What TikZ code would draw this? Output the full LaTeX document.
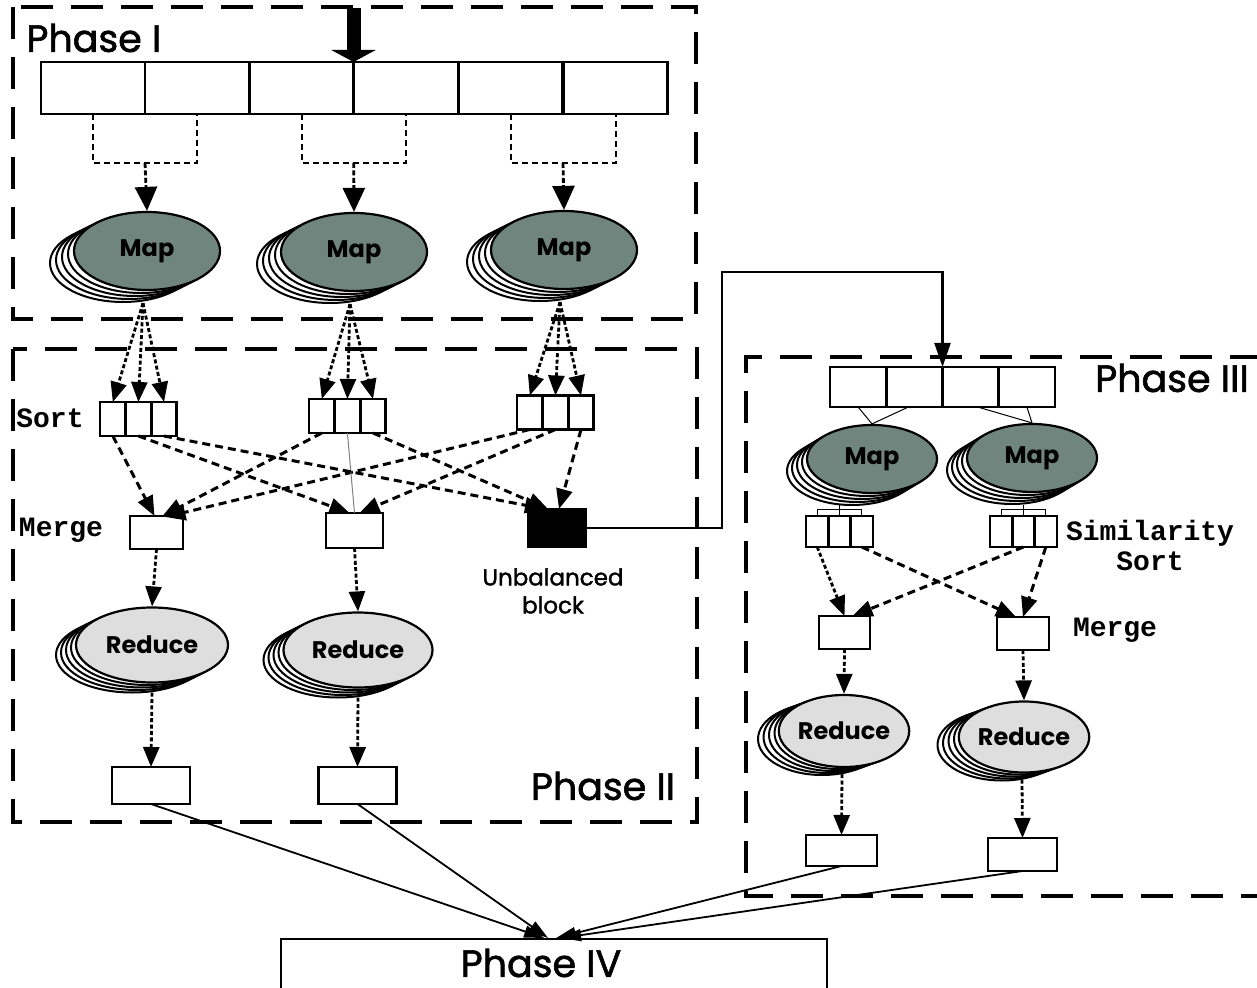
\documentclass[tikz,border=0pt]{standalone}
\usepackage{fontspec}
\setmainfont{Poppins}
\newfontfamily\phasefont{Poppins}[FakeBold=1.6]
\newfontfamily\codefont{Liberation Mono}
\usetikzlibrary{arrows.meta,calc,shapes.geometric}
\definecolor{mapfill}{RGB}{111,133,126}
\definecolor{redfill}{RGB}{222,222,222}

% stacked ellipses: name, x, y, width, height, dx, dy, fill, label
\newcommand\ellstack[9]{%
  \foreach \k in {4,3,2,1}
    \node[ellipse, draw, fill=white, line width=1pt, inner sep=0pt,
          minimum width=#4, minimum height=#5] (#1-\k) at ({#2+\k*(#6)},{#3+\k*(#7)}) {};
  \node[ellipse, draw, line width=1.1pt, inner sep=0pt, fill=#8,
        minimum width=#4, minimum height=#5,
        font=\bfseries\fontsize{12}{12}\selectfont] (#1) at (#2,#3) {#9};
}

\begin{document}
\begin{tikzpicture}[x=0.5pt,y=-0.5pt,
  frame/.style={line width=1.6pt, dash pattern=on 16pt off 9pt},
  box/.style={draw, line width=1.4pt, inner sep=0pt, outer sep=0pt, fill=white},
  phaselabel/.style={font=\phasefont\fontsize{19}{22}\selectfont, inner sep=0pt},
  codelabel/.style={font=\codefont\bfseries\fontsize{14}{15}\selectfont, inner sep=0pt},
  dotarr/.style={line width=1.4pt, dash pattern=on 2pt off 1.2pt, -{Triangle[width=8pt,length=10pt]}},
  bigdotarr/.style={line width=1.4pt, dash pattern=on 2.5pt off 1.2pt, -{Triangle[width=11pt,length=12pt]}},
  dsharr/.style={line width=1.5pt, dash pattern=on 4pt off 2.5pt, -{Triangle[width=8pt,length=10pt]}},
  bracket/.style={line width=1pt, dash pattern=on 3pt off 2pt},
  solidarr/.style={line width=0.9pt, -{Triangle[width=6pt,length=10pt]}},
  thinl/.style={line width=0.5pt},
]
\useasboundingbox (0,0) rectangle (1257,988);

%% ---------------- Phase I ----------------
\draw[frame] (13,7) rectangle (696,319);
\node[phaselabel, anchor=west] (ph1) at (26,38) {Phase I};

\foreach \i/\x in {1/93,2/197,3/301.5,4/406,5/510.5,6/615.5}
  \node[box, minimum width=52pt, minimum height=26pt] (c\i) at (\x,88) {};

% input feed
\coordinate (feed) at (353.5,8);
\draw[line width=7pt, -{Triangle[width=22pt,length=6pt]}] (feed) -- (c3.north east);

% splits
\draw[bracket] (c1.south) -- ++(0,49) -| (c2.south);
\draw[bracket] (c3.south) -- ++(0,49) -| (c4.south);
\draw[bracket] (c5.south) -- ++(0,49) -| (c6.south);
\coordinate (b1) at ($(c1.south)!0.5!(c2.south)+(0,49)$);
\coordinate (b2) at ($(c3.south)!0.5!(c4.south)+(0,49)$);
\coordinate (b3) at ($(c5.south)!0.5!(c6.south)+(0,49)$);

\ellstack{m1}{147}{251}{73pt}{39pt}{-6}{3}{mapfill}{Map}
\ellstack{m2}{354}{252}{73pt}{39pt}{-6}{3}{mapfill}{Map}
\ellstack{m3}{564}{250}{73pt}{39pt}{-6}{3}{mapfill}{Map}

\draw[bigdotarr] (b1) -- (m1.north);
\draw[bigdotarr] (b2) -- (m2.north);
\draw[bigdotarr] (b3) -- (m3.north);

%% ---------------- Phase II ----------------
\draw[frame] (13,349) rectangle (697,822);
\node[phaselabel] (ph2) at (603,786) {Phase II};

\foreach \n/\x/\y in {1/100/419,2/309/416,3/517/412.5}{
  \foreach \c/\k in {a/0,b/1,c/2}
    \node[box, minimum width=12.8pt, minimum height=17pt] (s\n\c) at ({\x+12.8+\k*25.6},\y) {};
}
\node[codelabel] (lsort) at (50,418) {Sort};
\node[codelabel] (lmerge) at (61,530) {Merge};

% map outputs fanned into the sort buffers
\foreach \n in {1,2,3}{
  \coordinate (f\n) at ($(m\n.south)+(-4,12)$);
  \foreach \c in {a,b,c}
    \draw[dotarr] (f\n) -- (s\n\c.north);
}

\node[box, minimum width=26.5pt, minimum height=16.5pt] (me1) at (156.5,532.5) {};
\node[box, minimum width=28.5pt, minimum height=17.5pt] (me2) at (354.5,530.5) {};
\node[box, fill=black, minimum width=29pt, minimum height=19pt] (unb) at (557,528) {};
\node[font=\phasefont\fontsize{11.5}{14}\selectfont, align=center, inner sep=0pt] (lunb) at (553,591) {Unbalanced\\block};

% shuffle
\draw[dsharr] (s1a.south) -- ($(me1.north)+(-2,0)$);
\draw[dsharr] (s2a.south) -- ($(me1.north)+(6,0)$);
\draw[dsharr] (s3a.south) -- ($(me1.north)+(9,1)$);
\draw[dsharr] (s1b.south) -- ($(me2.north)+(-5,0)$);
\draw[thinl, gray] (s2b.south) -- (me2.north);
\draw[dsharr] (s3b.south) -- ($(me2.north)+(5,0)$);
\draw[dsharr] (s1c.south) -- ($(unb.north)+(-12,0)$);
\draw[dsharr] (s2c.south) -- ($(unb.north)+(-9,0)$);
\draw[dsharr] (s3c.south) -- ($(unb.north)+(2,0)$);

\ellstack{r1}{152}{645}{76pt}{37.5pt}{-5}{2.5}{redfill}{Reduce}
\ellstack{r2}{358}{650}{74.5pt}{37.5pt}{-5}{2.5}{redfill}{Reduce}
\draw[dotarr] (me1.south) -- (r1.north);
\draw[dotarr] (me2.south) -- (r2.north);

\node[box, minimum width=39pt, minimum height=18.5pt] (o1) at (151,785.5) {};
\node[box, minimum width=39pt, minimum height=18.5pt] (o2) at (357.5,785.5) {};
\draw[dotarr] ($(r1.south)+(0,9)$) -- (o1.north);
\draw[dotarr] ($(r2.south)+(0,9)$) -- (o2.north);

%% ---------------- Phase III ----------------
\draw[frame] (1262,357) -- (746,357) -- (746,896) -- (1262,896);
\node[phaselabel] (ph3) at (1172,378) {Phase III};

\foreach \i/\x in {1/858.1,2/914.4,3/970.6,4/1026.9}
  \node[box, minimum width=28.1pt, minimum height=20pt] (q\i) at (\x,387) {};

% unbalanced block re-processed
\draw[line width=1.1pt, -{Triangle[width=8pt,length=12pt]}]
  (unb.east) -- ++(136,0) |- ($(q2.north east)+(0,-95)$) -- (q2.north east);

\ellstack{pm1}{872}{459}{65pt}{34pt}{-5}{3}{mapfill}{Map}
\ellstack{pm2}{1032}{458}{65pt}{34pt}{-5}{3}{mapfill}{Map}
\draw[thinl] (q1.south) -- (pm1.north);
\draw[thinl] ($(q2.south)+(-6,0)$) -- (pm1.north);
\draw[thinl] ($(q3.south)+(7,0)$) -- (pm2.north);
\draw[thinl] (q4.south) -- (pm2.north);

\foreach \n/\x in {1/806,2/990}{
  \foreach \c/\k in {a/0,b/1,c/2}
    \node[box, minimum width=11.2pt, minimum height=15.5pt] (ss\n\c) at ({\x+11.2+\k*22.3},531.5) {};
}
\draw[thinl] (ss1a.north) -- ++(0,-7) -| (ss1c.north);
\draw[thinl] (ss1b.north) -- ++(0,-11);
\draw[thinl] (ss2a.north) -- ++(0,-7) -| (ss2c.north);
\draw[thinl] (ss2b.north) -- ++(0,-11);
\node[codelabel, align=center] (lsim) at (1150,545) {Similarity\\Sort};

\node[box, minimum width=25.5pt, minimum height=16.5pt] (n1) at (844.5,632.5) {};
\node[box, minimum width=26pt, minimum height=16.5pt] (n2) at (1023,633.5) {};
\node[codelabel] (lmerge3) at (1115,630) {Merge};

\draw[dotarr] (ss1a.south) -- (n1.north);
\draw[dsharr] (ss1c.south) -- ($(n2.north)+(-7,0)$);
\draw[dsharr] (ss2b.south) -- ($(n1.north)+(8,0)$);
\draw[dsharr] (ss2c.south) -- (n2.north);

\ellstack{pr1}{844}{731}{64pt}{36pt}{-5.5}{2}{redfill}{Reduce}
\ellstack{pr2}{1024}{737}{64.5pt}{35.5pt}{-5.5}{2}{redfill}{Reduce}
\draw[dotarr] (n1.south) -- (pr1.north);
\draw[dotarr] (n2.south) -- (pr2.north);

\node[box, minimum width=35.5pt, minimum height=15.5pt] (o3) at (841.5,850.5) {};
\node[box, minimum width=34.5pt, minimum height=16.5pt] (o4) at (1022.5,854.5) {};
\draw[dotarr] ($(pr1.south)+(-2,6)$) -- (o3.north);
\draw[dotarr] ($(pr2.south)+(-2,6)$) -- (o4.north);

%% ---------------- Phase IV ----------------
\node[draw, line width=1.1pt, inner sep=0pt, anchor=north west,
      minimum width=273pt, minimum height=31pt] (p4) at (280,938) {};
\node[phaselabel] (ph4) at (541,963) {Phase IV};

\draw[solidarr] (o1.south) -- ($(p4.north)+(-10,0)$);
\draw[solidarr] (o2.south) -- ($(p4.north)+(-6,0)$);
\draw[solidarr] (o3.south) -- ($(p4.north)+(2,0)$);
\draw[solidarr] (o4.south) -- ($(p4.north)+(7,0)$);
\end{tikzpicture}
\end{document}
